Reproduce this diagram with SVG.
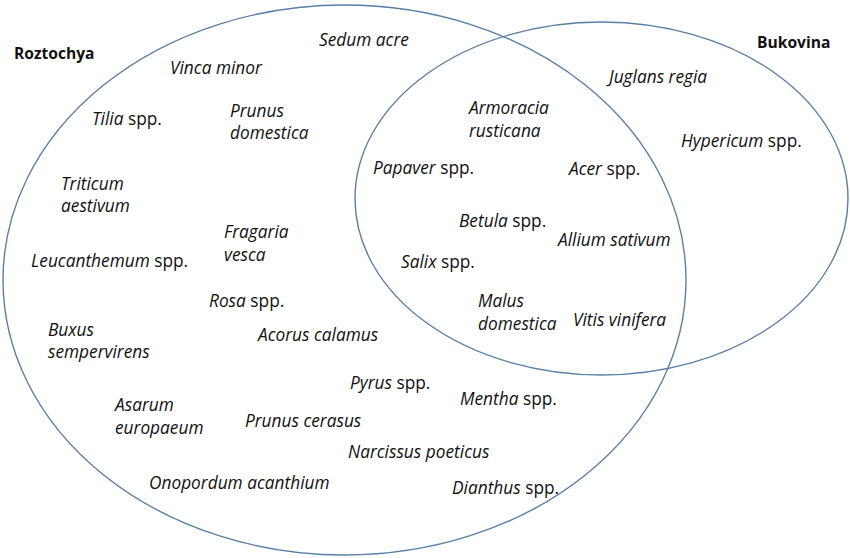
<svg xmlns="http://www.w3.org/2000/svg" width="850" height="558" viewBox="0 0 850 558">
<style>
.bg{fill:#ffffff}
.set{fill:none;stroke:#5a7ea6;stroke-width:1.4}
text{font-family:"Open Sans","Liberation Sans",sans-serif;font-size:17.3px;fill:#111111}
.sp{font-style:italic}
.lbl{font-weight:bold;font-size:15.6px}
</style>
<rect class="bg" x="0" y="0" width="850" height="558"/>
<g id="connectors"/>
<g id="set-roztochya"><ellipse class="set" cx="344.5" cy="280" rx="341.5" ry="275"/><text class="lbl" x="14" y="59">Roztochya</text></g>
<g id="set-bukovina"><ellipse class="set" cx="601.5" cy="198.5" rx="246.5" ry="176.5"/><text class="lbl" x="757" y="48">Bukovina</text></g>
<g id="sedum"><text class="sp" x="319" y="46">Sedum acre</text></g>
<g id="vinca"><text class="sp" x="170" y="74">Vinca minor</text></g>
<g id="tilia"><text x="92" y="125"><tspan class="sp">Tilia</tspan> spp.</text></g>
<g id="prunus-dom"><text class="sp" x="230" y="117">Prunus</text><text class="sp" x="230" y="139">domestica</text></g>
<g id="triticum"><text class="sp" x="61" y="190">Triticum</text><text class="sp" x="61" y="212">aestivum</text></g>
<g id="fragaria"><text class="sp" x="224" y="238">Fragaria</text><text class="sp" x="224" y="261">vesca</text></g>
<g id="leucanthemum"><text x="31" y="267"><tspan class="sp">Leucanthemum</tspan> spp.</text></g>
<g id="rosa"><text x="209" y="307"><tspan class="sp">Rosa</tspan> spp.</text></g>
<g id="buxus"><text class="sp" x="48" y="336">Buxus</text><text class="sp" x="48" y="358">sempervirens</text></g>
<g id="acorus"><text class="sp" x="258" y="341">Acorus calamus</text></g>
<g id="pyrus"><text x="350" y="389"><tspan class="sp">Pyrus</tspan> spp.</text></g>
<g id="asarum"><text class="sp" x="115" y="411">Asarum</text><text class="sp" x="115" y="434">europaeum</text></g>
<g id="prunus-cer"><text class="sp" x="245" y="427">Prunus cerasus</text></g>
<g id="narcissus"><text class="sp" x="348" y="458">Narcissus poeticus</text></g>
<g id="onopordum"><text class="sp" x="149" y="489">Onopordum acanthium</text></g>
<g id="mentha"><text x="460" y="405"><tspan class="sp">Mentha</tspan> spp.</text></g>
<g id="dianthus"><text x="452" y="494"><tspan class="sp">Dianthus</tspan> spp.</text></g>
<g id="armoracia"><text class="sp" x="469" y="114">Armoracia</text><text class="sp" x="469" y="137">rusticana</text></g>
<g id="papaver"><text x="373" y="174"><tspan class="sp">Papaver</tspan> spp.</text></g>
<g id="acer"><text x="569" y="175"><tspan class="sp">Acer</tspan> spp.</text></g>
<g id="betula"><text x="459" y="227"><tspan class="sp">Betula</tspan> spp.</text></g>
<g id="allium"><text class="sp" x="558" y="246">Allium sativum</text></g>
<g id="salix"><text x="401" y="268"><tspan class="sp">Salix</tspan> spp.</text></g>
<g id="malus"><text class="sp" x="478" y="307">Malus</text><text class="sp" x="478" y="330">domestica</text></g>
<g id="vitis"><text class="sp" x="573" y="326">Vitis vinifera</text></g>
<g id="juglans"><text class="sp" x="609" y="83">Juglans regia</text></g>
<g id="hypericum"><text x="681" y="147"><tspan class="sp">Hypericum</tspan> spp.</text></g>
</svg>
